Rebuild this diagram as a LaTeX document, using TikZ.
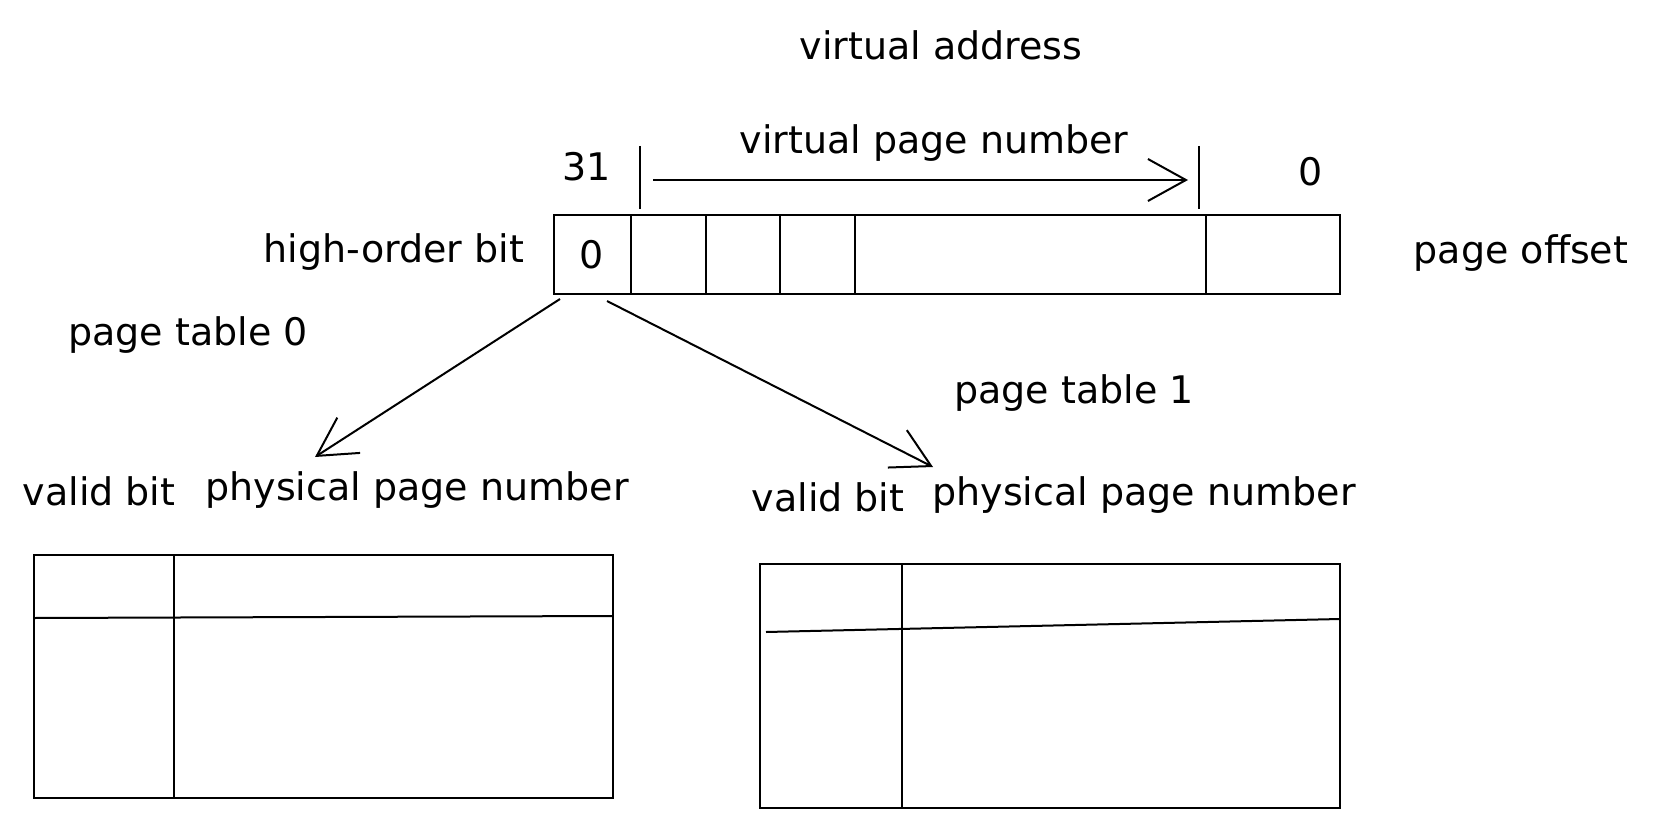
\documentclass[tikz,border=0pt]{standalone}
\usepackage{fontspec}
\setmainfont{DejaVu Sans}
\usetikzlibrary{positioning,arrows.meta}

\tikzset{
  lbl/.style={font=\fontsize{38}{44}\selectfont, inner sep=0pt},
  barb/.style={-{Straight Barb[length=38pt,width=42pt,line width=2pt]}}
}

\begin{document}
\begin{tikzpicture}[x=1pt,y=-1pt,line width=2pt]
\useasboundingbox (0,0) rectangle (1664,829);
% virtual address register
\node[lbl] (va) at (941,45) {virtual address};
\node[lbl] (vpn) at (934,143) {virtual page number};
\node[lbl] (b31) at (587,167) {31};
\node[lbl] (b0) at (1311,172) {0};
\node[lbl,anchor=east] (hob) at (525,252) {high-order bit};
\node[lbl] (po) at (1521,253) {page offset};
\coordinate (regtl) at (554,215);
\coordinate (regbr) at (1340,294);
\draw (regtl) rectangle (regbr);
\foreach \x in {631,706,780,855,1206}
  \draw (\x,215) -- (\x,294);
\node[lbl] (bit) at (592,255) {0};
% bit range
\draw (640,146) -- (640,209);
\draw (1199,146) -- (1199,209);
\coordinate (vs) at (653,180);
\coordinate (ve) at (1188,180);
\draw[barb] (vs) -- (ve);
% arrows to the tables
\coordinate (hs0) at (560,299);
\coordinate (hs1) at (607,301);
\coordinate (pt0) at (315,457);
\coordinate (pt1) at (933,467);
\draw[barb] (hs0) -- (pt0);
\draw[barb] (hs1) -- (pt1);
% page table 0
\node[lbl] (ptz) at (188,335) {page table 0};
\node[lbl] (vbz) at (99,491) {valid bit};
\node[lbl] (ppz) at (417,490) {physical page number};
\coordinate (tzl) at (34,555);
\coordinate (tzr) at (613,798);
\draw (tzl) rectangle (tzr);
\draw (174,555) -- (174,798);
\draw (34,618) -- (613,616);
% page table 1
\node[lbl] (pto) at (1074,393) {page table 1};
\node[lbl] (vbo) at (828,497) {valid bit};
\node[lbl] (ppo) at (1144,495) {physical page number};
\coordinate (tol) at (760,564);
\coordinate (tor) at (1340,808);
\draw (tol) rectangle (tor);
\draw (902,564) -- (902,808);
\draw (766,632) -- (1340,619);
\end{tikzpicture}
\end{document}
